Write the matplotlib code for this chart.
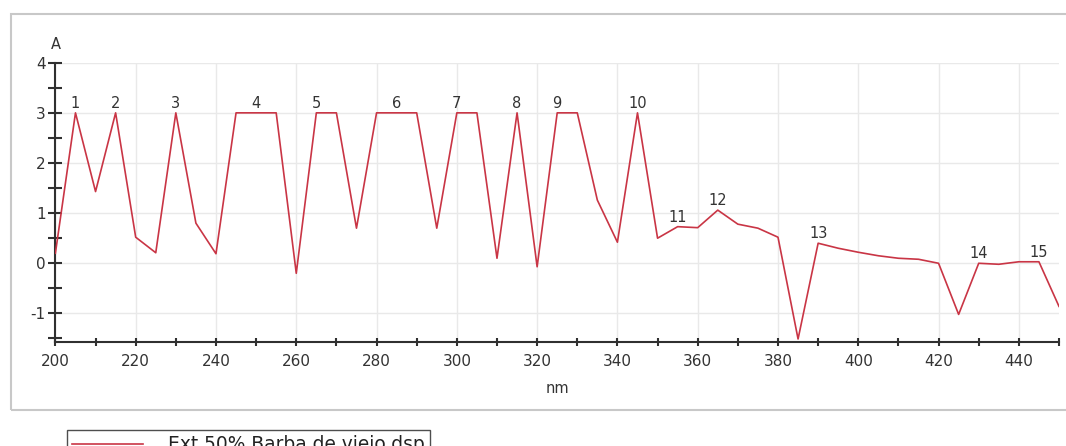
import matplotlib
matplotlib.use("Agg")
from matplotlib import pyplot as plt
from matplotlib.patches import Rectangle
from matplotlib.ticker import MultipleLocator
import numpy as np

plt.rcParams["axes.unicode_minus"] = False

# spectrum, absorbance every 5 nm
wavelength = [200, 205, 210, 215, 220, 225, 230, 235, 240, 245,
              250, 255, 260, 265, 270, 275, 280, 285, 290, 295,
              300, 305, 310, 315, 320, 325, 330, 335, 340, 345,
              350, 355, 360, 365, 370, 375, 380, 385, 390, 395,
              400, 405, 410, 415, 420, 425, 430, 435, 440, 445, 450]
absorbance = [0.2, 3.0, 1.43, 3.0, 0.52, 0.21, 3.0, 0.8, 0.19, 3.0,
              3.0, 3.0, -0.2, 3.0, 3.0, 0.7, 3.0, 3.0, 3.0, 0.7,
              3.0, 3.0, 0.1, 3.0, -0.07, 3.0, 3.0, 1.26, 0.42, 3.0,
              0.5, 0.73, 0.71, 1.06, 0.78, 0.70, 0.52, -1.51, 0.40, 0.30,
              0.22, 0.15, 0.10, 0.08, 0.0, -1.02, 0.0, -0.02, 0.03, 0.03, -0.86]

# numbered peaks
peak_nm = [205, 215, 230, 250, 265, 285, 300, 315, 325, 345, 355, 365, 390, 430, 445]
peak_num = [str(i) for i in range(1, 16)]

series_name = "Ext.50% Barba de viejo.dsp"
line_color = "#c93545"
axis_color = "#303030"

W, H = 1066, 446
fig = plt.figure(figsize=(W / 100, H / 100), dpi=100)
fig.patch.set_facecolor("white")
ax = fig.add_axes([55.4 / W, 1 - 342 / H, (1059 - 55.4) / W, (342 - 62.7) / H])

ax.plot(wavelength, absorbance, color=line_color, lw=1.2, zorder=3, label=series_name)

lookup = dict(zip(wavelength, absorbance))
for nm, txt in zip(peak_nm, peak_num):
    ax.annotate(txt, (nm, lookup[nm]), xytext=(0, 1.5), textcoords="offset points",
                ha="center", va="bottom", fontsize=10.5, color="#333333", zorder=4)

ax.set_xlim(200, 450)
ax.set_ylim(-1.57, 4)
ax.xaxis.set_major_locator(MultipleLocator(20))
ax.xaxis.set_minor_locator(MultipleLocator(10))
ax.yaxis.set_major_locator(MultipleLocator(1))
ax.yaxis.set_minor_locator(MultipleLocator(0.5))
ax.grid(True, which="major", color="#e9e9e9", lw=1.0, zorder=0)

for s in ["top", "right"]:
    ax.spines[s].set_visible(False)
for s in ["left", "bottom"]:
    ax.spines[s].set_color(axis_color)
    ax.spines[s].set_linewidth(1.5)

ax.tick_params(axis="x", which="both", direction="inout", length=6, width=1.5,
               color=axis_color, labelsize=11, labelcolor="#333333", pad=6)
ax.tick_params(axis="y", which="both", direction="inout", length=10, width=1.5,
               color=axis_color, labelsize=11, labelcolor="#333333", pad=2)

ax.set_xlabel("nm", fontsize=10.5, color="#333333", labelpad=8)
ax.text(0, 1.04, "A", transform=ax.transAxes, ha="center", va="bottom",
        fontsize=10.5, color="#333333")

# outer panel border
fig.patches.append(Rectangle((11 / W, 1 - 409.5 / H), (W + 10 - 11) / W, (409.5 - 14) / H,
                             transform=fig.transFigure, fill=False,
                             edgecolor="#c8c8c8", lw=1.5, zorder=0))

leg = fig.legend(loc="upper left", bbox_to_anchor=(66.7 / W, 1 - 429.5 / H),
                 bbox_transform=fig.transFigure, borderaxespad=0, fontsize=13.4,
                 frameon=True, fancybox=False, handlelength=3.8, handletextpad=1.35,
                 borderpad=0.3)
leg.get_frame().set_edgecolor("#222222")
leg.get_frame().set_linewidth(1.0)
for t in leg.get_texts():
    t.set_color("#222222")

fig.savefig("out.png", dpi=100)
